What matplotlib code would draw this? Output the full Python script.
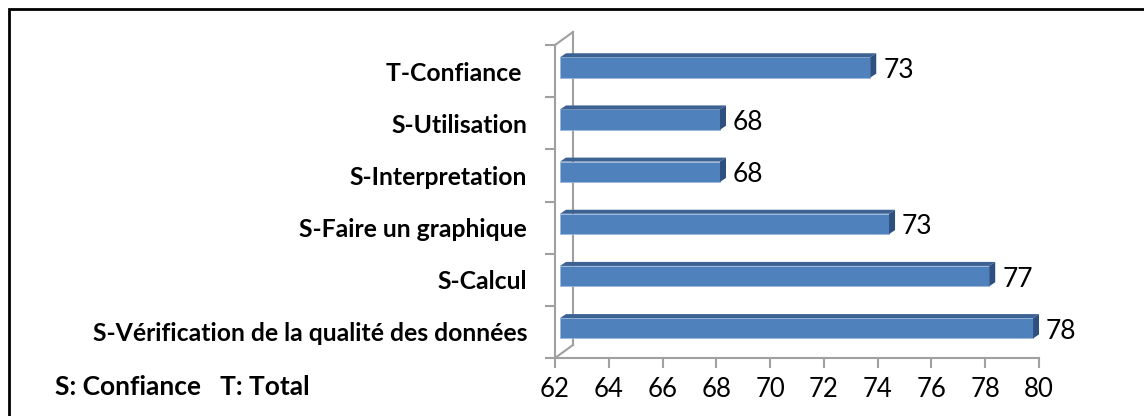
import matplotlib
matplotlib.use("Agg")
import matplotlib.pyplot as plt
from matplotlib.patches import Polygon, Rectangle

plt.rcParams["font.family"] = ["Lato", "DejaVu Sans"]

# ----------------------------------------------
# data (bottom -> top)
# ----------------------------------------------
categories = [
    "S-Vérification de la qualité des données",
    "S-Calcul",
    "S-Faire un graphique",
    "S-Interpretation",
    "S-Utilisation",
    "T-Confiance ",
]
values = [78.0, 76.6, 73.4, 68.0, 68.0, 72.8]
x_ticks = [62, 64, 66, 68, 70, 72, 74, 76, 78, 80]
note = "S: Confiance   T: Total"

W, H = 1144, 416
fig = plt.figure(figsize=(W / 100, H / 100), dpi=100)
fig.patch.set_facecolor("white")

# frame (only top and left edges are visible in the picture)
fig.add_artist(Rectangle((9 / W, -0.1), 1.2, (H - 9) / H + 0.1, transform=fig.transFigure,
                         fill=False, edgecolor="black", linewidth=2))

# main axes: front plane of the 3D chart
ax = fig.add_axes([555 / W, 58 / H, 484 / W, 313 / H])
ax.set_xlim(62, 80)
ax.set_ylim(-0.5, len(categories) - 0.5)
ax.patch.set_visible(False)

grey = "#a0a0a0"
for s in ["top", "right"]:
    ax.spines[s].set_visible(False)
for s in ["left", "bottom"]:
    ax.spines[s].set_color(grey)
    ax.spines[s].set_linewidth(1.5)

ax.set_xticks(x_ticks)
ax.tick_params(axis="x", colors=grey, length=7, width=1.5, labelsize=18.5,
               labelcolor="black", pad=7)
ax.set_yticks([i - 0.5 for i in range(len(categories) + 1)])
ax.set_yticklabels([])
ax.set_yticks(range(len(categories)), minor=True)
ax.set_yticklabels(categories, minor=True, fontweight="bold", fontsize=17.8)
ax.tick_params(axis="y", which="major", colors=grey, length=7, width=1.5)
ax.tick_params(axis="y", which="minor", length=0, pad=20)

# back wall lines (oblique depth)
ddx_front = 18 / 484 * 18   # 18 px in x data units
ddy_front = 13 / 313 * 6    # 13 px in y data units
ytop = len(categories) - 0.5
ax.plot([62, 62 + ddx_front], [-0.5, -0.5 + ddy_front], color=grey, lw=1.5, clip_on=False)
ax.plot([62, 62 + ddx_front], [ytop, ytop + ddy_front], color=grey, lw=1.5, clip_on=False)
ax.plot([62 + ddx_front] * 2, [-0.5 + ddy_front, ytop + ddy_front], color=grey, lw=1.5,
        clip_on=False, zorder=1)

# bars sit on the back plane, which Excel scales differently from the front axis
axb = ax.twiny()
bar_lo, bar_hi = 62.73, 78.19
axb.set_xlim(bar_lo, bar_hi)
axb.set_ylim(ax.get_ylim())
axb.axis("off")

base = bar_lo + 5 * (bar_hi - bar_lo) / 484
bar_h = 0.39
off_y = 0.07
dx = 6 * (bar_hi - bar_lo) / 484
dy = 4 * 6 / 313

front_c = "#4f81bd"
top_c = "#3c6293"
side_c = "#2d5080"

for i, v in enumerate(values):
    yc = i + off_y
    y0, y1 = yc - bar_h / 2, yc + bar_h / 2
    axb.barh(yc, v - base, left=base, height=bar_h, color=front_c,
             edgecolor="#9bb7db", linewidth=0.6, zorder=3)
    axb.add_patch(Polygon([(base, y1), (v, y1), (v + dx, y1 + dy), (base + dx, y1 + dy)],
                          closed=True, facecolor=top_c, edgecolor="none", zorder=3))
    axb.add_patch(Polygon([(v, y0), (v, y1), (v + dx, y1 + dy), (v + dx, y0 + dy)],
                          closed=True, facecolor=side_c, edgecolor="none", zorder=3))
    axb.annotate(f"{v:.0f}", xy=(v + dx, yc), xytext=(7, -3), textcoords="offset pixels",
                 ha="left", va="center", fontsize=19)

fig.text(55 / W, 1 - 387 / H, note, fontsize=19, fontweight="bold", ha="left", va="center")

fig.savefig("out.png", dpi=100)
